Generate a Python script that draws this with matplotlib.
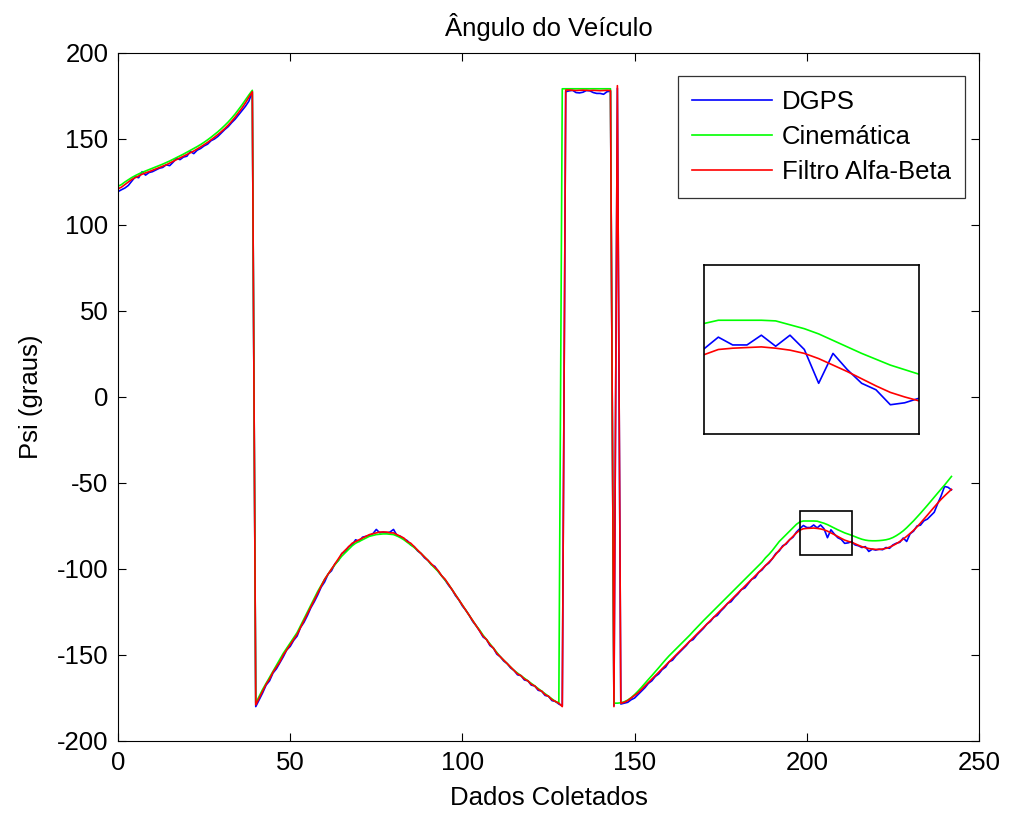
import matplotlib
matplotlib.use("Agg")
import matplotlib.pyplot as plt
from matplotlib.patches import Rectangle

plt.rcParams['font.family'] = ['Liberation Sans', 'DejaVu Sans']
plt.rcParams['axes.unicode_minus'] = False

x_start = 0
labels = ["DGPS", "Cinemática", "Filtro Alfa-Beta"]
colors = ["#0000ff", "#00ff00", "#ff0000"]
title = "Ângulo do Veículo"
xlabel = "Dados Coletados"
ylabel = "Psi (graus)"
xticks = [0, 50, 100, 150, 200, 250]
yticks = [-200, -150, -100, -50, 0, 50, 100, 150, 200]
zoom_x = [198, 213]
zoom_y = [-92, -66]
inset_ylim = [-89.6, -63.6]

dgps = [
    119.4, 120.5, 121.5, 123.0, 125.5, 128.0, 127.5, 131.0, 129.0, 130.5,   # 0-9
    131.0, 132.0, 133.0, 133.5, 135.0, 134.5, 136.5, 138.8, 138.0, 139.5,   # 10-19
    140.0, 142.7, 141.5, 143.5, 144.5, 146.0, 147.0, 149.0, 150.0, 151.5,   # 20-29
    153.5, 155.5, 157.2, 159.5, 161.5, 164.0, 166.5, 169.0, 172.0, 177.5,   # 30-39
    -180.0, -176.0, -172.0, -167.5, -165.0, -160.5, -158.0, -154.5, -151.0, -147.0,  # 40-49
    -145.0, -141.5, -139.0, -134.0, -131.0, -127.0, -122.5, -119.0, -115.0, -110.5,  # 50-59
    -107.5, -103.0, -101.0, -97.0, -95.0, -91.0, -90.0, -87.0, -86.0, -83.0,   # 60-69
    -84.0, -81.5, -81.0, -80.5, -79.5, -77.0, -79.0, -78.5, -79.0, -78.5,      # 70-79
    -77.0, -80.5, -81.0, -82.5, -83.5, -86.0, -87.0, -89.5, -91.0, -93.5,      # 80-89
    -95.0, -97.5, -98.5, -101.5, -104.0, -106.5, -109.5, -112.0, -115.5, -118.0,  # 90-99
    -121.5, -124.0, -127.0, -130.5, -133.0, -136.0, -139.5, -141.0, -144.5, -146.0,  # 100-109
    -149.5, -151.0, -153.5, -155.0, -157.5, -159.0, -161.5, -162.0, -164.5, -165.0,  # 110-119
    -167.5, -168.0, -170.5, -171.0, -173.5, -174.0, -176.5, -177.0, -178.5, -179.5,  # 120-129
    177.5, 178.0, 178.3, 177.0, 176.8, 177.2, 178.2, 178.0, 177.0, 176.5,      # 130-139
    176.5, 176.0, 177.5, 177.8, -179.5, 179.5, -178.5, -178.0, -177.5, -176.0,  # 140-149
    -175.0, -173.0, -171.0, -169.0, -166.5, -165.0, -162.5, -161.0, -158.5, -157.0,  # 150-159
    -154.0, -153.0, -150.5, -148.5, -146.5, -144.5, -142.0, -141.0, -138.5, -136.5,  # 160-169
    -134.5, -132.0, -130.5, -128.0, -127.0, -124.5, -122.5, -120.0, -119.0, -116.5,  # 170-179
    -114.5, -112.0, -111.0, -108.5, -106.0, -105.0, -102.0, -100.5, -98.0, -96.5,    # 180-189
    -94.0, -91.0, -89.5, -86.5, -85.5, -83.0, -81.5, -78.5, -76.5, -74.7,      # 190-199
    -75.9, -75.9, -74.4, -76.1, -74.4, -76.6, -81.8, -77.2, -79.7, -81.8,      # 200-209
    -82.8, -85.1, -84.8, -84.1, -86.0, -86.5, -87.5, -87.0, -89.8, -88.5,      # 210-219
    -89.0, -88.5, -88.8, -87.5, -88.0, -86.0, -85.0, -84.5, -82.0, -84.0,      # 220-229
    -79.5, -78.0, -75.0, -74.5, -72.0, -71.0, -69.0, -67.0, -62.0, -57.5,      # 230-239
    -52.0, -52.5, -54.0,                                                       # 240-242
]

cinematica = [
    122.5, 123.5, 125.0, 126.3, 127.6, 128.7, 129.7, 130.6, 131.4, 132.2,     # 0-9
    133.0, 133.8, 134.6, 135.4, 136.3, 137.2, 138.2, 139.2, 140.2, 141.2,     # 10-19
    142.3, 143.4, 144.5, 145.6, 146.8, 148.1, 149.5, 151.0, 152.6, 154.2,     # 20-29
    156.0, 157.9, 159.9, 162.1, 164.5, 167.1, 169.8, 172.7, 175.6, 178.3,     # 30-39
    -178.0, -174.0, -170.0, -166.5, -163.0, -159.5, -156.0, -152.5, -149.0, -146.0,  # 40-49
    -143.0, -140.0, -137.0, -133.0, -129.0, -125.0, -121.0, -117.0, -113.0, -109.5,  # 50-59
    -106.0, -103.0, -100.0, -97.5, -95.0, -92.5, -90.5, -88.5, -86.5, -85.0,  # 60-69
    -84.0, -83.0, -82.0, -81.0, -80.5, -80.0, -79.8, -79.6, -79.6, -79.8,     # 70-79
    -80.0, -80.8, -81.8, -83.0, -84.5, -86.0, -87.5, -89.2, -91.0, -93.0,     # 80-89
    -95.0, -97.5, -99.5, -101.5, -104.0, -106.5, -109.0, -112.0, -115.0, -118.0,  # 90-99
    -121.0, -124.0, -127.0, -130.0, -133.0, -135.5, -138.5, -141.0, -143.5, -146.0,  # 100-109
    -148.5, -151.0, -153.0, -155.0, -157.0, -159.0, -160.5, -162.0, -163.5, -165.0,  # 110-119
    -166.5, -168.0, -169.5, -171.0, -172.5, -174.0, -175.5, -177.0, -178.0, 179.2,  # 120-129
    179.2, 179.2, 179.2, 179.2, 179.2, 179.2, 179.2, 179.2, 179.2, 179.2,     # 130-139
    179.2, 179.2, 179.2, 179.2, -178.0, -178.0, -177.8, -177.2, -176.2, -174.8,  # 140-149
    -173.0, -171.0, -168.8, -166.5, -164.2, -162.0, -159.7, -157.4, -155.0, -152.7,  # 150-159
    -150.5, -148.5, -146.5, -144.5, -142.5, -140.5, -138.5, -136.3, -134.2, -132.1,  # 160-169
    -130.0, -128.0, -126.0, -124.0, -122.0, -120.0, -118.0, -116.0, -114.0, -112.0,  # 170-179
    -110.0, -108.0, -106.0, -104.0, -102.0, -100.0, -98.0, -96.0, -93.5, -91.5,   # 180-189
    -89.2, -86.6, -84.0, -82.0, -80.0, -78.0, -76.0, -74.0, -72.6, -72.1,     # 190-199
    -72.1, -72.1, -72.1, -72.2, -72.8, -73.4, -74.2, -75.2, -76.2, -77.2,     # 200-209
    -78.1, -79.0, -79.7, -80.4, -81.2, -82.0, -82.7, -83.2, -83.5, -83.6,     # 210-219
    -83.6, -83.5, -83.3, -83.0, -82.5, -81.7, -80.6, -79.3, -77.8, -76.0,     # 220-229
    -74.0, -72.0, -69.8, -67.6, -65.3, -63.0, -60.6, -58.2, -55.8, -53.5,     # 230-239
    -51.2, -48.7, -46.2,                                                      # 240-242
]

filtro = [
    121.0, 122.0, 123.5, 125.0, 126.5, 127.5, 128.5, 129.5, 130.3, 131.0,     # 0-9
    131.8, 132.6, 133.4, 134.2, 135.0, 136.0, 137.0, 138.0, 139.0, 140.0,     # 10-19
    141.0, 142.0, 143.0, 144.2, 145.4, 146.7, 148.0, 149.5, 151.0, 152.6,     # 20-29
    154.3, 156.1, 158.1, 160.3, 162.7, 165.3, 168.0, 171.0, 174.2, 177.5,     # 30-39
    -179.0, -175.0, -171.0, -167.0, -164.0, -160.0, -157.0, -154.0, -150.0, -147.0,  # 40-49
    -144.0, -141.0, -138.0, -134.0, -130.0, -126.0, -122.0, -118.0, -114.0, -110.0,  # 50-59
    -106.0, -103.0, -100.0, -97.0, -94.0, -91.0, -89.0, -87.0, -85.0, -84.0,  # 60-69
    -83.0, -82.0, -81.0, -80.0, -79.5, -79.0, -78.5, -78.5, -78.5, -79.0,     # 70-79
    -79.0, -80.0, -81.0, -82.0, -84.0, -85.0, -87.0, -89.0, -91.0, -93.0,     # 80-89
    -95.0, -97.0, -99.0, -101.0, -104.0, -106.0, -109.0, -112.0, -115.0, -118.0,  # 90-99
    -121.0, -124.0, -127.0, -130.0, -133.0, -136.0, -139.0, -141.0, -144.0, -146.0,  # 100-109
    -149.0, -151.0, -153.0, -155.0, -157.0, -159.0, -161.0, -162.0, -164.0, -165.0,  # 110-119
    -167.0, -168.0, -170.0, -171.0, -173.0, -174.0, -176.0, -177.0, -178.0, -180.0,  # 120-129
    178.5, 178.5, 178.3, 178.2, 178.3, 178.4, 178.3, 178.2, 178.3, 178.2,     # 130-139
    178.1, 178.2, 178.3, 178.2, -180.0, 181.0, -178.0, -177.5, -176.5, -175.0,  # 140-149
    -173.5, -172.0, -170.0, -168.0, -166.0, -164.0, -162.0, -160.0, -158.0, -156.0,  # 150-159
    -154.0, -152.0, -150.0, -148.0, -146.0, -144.0, -142.0, -140.0, -138.0, -136.0,  # 160-169
    -134.0, -132.0, -130.0, -128.0, -126.0, -124.0, -122.0, -120.0, -118.0, -116.0,  # 170-179
    -114.0, -112.0, -110.0, -108.0, -106.0, -104.0, -102.0, -100.0, -98.0, -96.0,   # 180-189
    -94.0, -91.5, -89.0, -87.0, -85.0, -83.0, -81.0, -79.0, -77.4, -76.6,     # 190-199
    -76.4, -76.3, -76.2, -76.4, -76.7, -77.2, -78.0, -79.0, -80.0, -81.1,     # 200-209
    -82.2, -83.2, -83.9, -84.5, -85.3, -86.2, -87.0, -87.6, -88.1, -88.4,     # 210-219
    -88.6, -88.6, -88.4, -88.0, -87.3, -86.4, -85.3, -84.0, -82.6, -81.0,     # 220-229
    -79.3, -77.5, -75.5, -73.3, -71.0, -68.7, -66.3, -64.0, -61.7, -59.5,     # 230-239
    -57.5, -55.6, -53.7,                                                      # 240-242
]

series = [dgps, cinematica, filtro]
n = len(dgps)
assert all(len(s) == n for s in series), [len(s) for s in series]
xs = list(range(x_start, x_start + n))

FS = 18.5
W, H = 1013, 814
fig = plt.figure(figsize=(W / 100, H / 100), dpi=100)
ax = fig.add_axes([118 / W, 1 - 741 / H, (979 - 118) / W, (741 - 53) / H])

for s, c, lab in zip(series, colors, labels):
    ax.plot(xs, s, color=c, lw=1.2, label=lab)

ax.set_xlim(0, 250)
ax.set_ylim(-200, 200)
ax.set_xticks(xticks)
ax.set_yticks(yticks)
ax.tick_params(direction='in', top=True, right=True, length=6, width=0.8,
               labelsize=FS, pad=7)
for sp in ax.spines.values():
    sp.set_linewidth(0.8)
ax.set_title(title, fontsize=FS, pad=12)
ax.set_xlabel(xlabel, fontsize=FS, labelpad=8)
ax.set_ylabel(ylabel, fontsize=FS, labelpad=10)

ax.add_patch(Rectangle((zoom_x[0], zoom_y[0]), zoom_x[1] - zoom_x[0],
                       zoom_y[1] - zoom_y[0], fill=False, ec='black', lw=1.2, zorder=5))

leg = ax.legend(loc='upper right', bbox_to_anchor=((965 - 118) / 861, 1 - (76 - 53) / 688),
                fontsize=FS, frameon=True, fancybox=False, edgecolor='black',
                handlelength=3.1, handletextpad=0.4, labelspacing=0.42,
                borderpad=0.55, borderaxespad=0.0)
leg.get_frame().set_linewidth(0.9)

axi = fig.add_axes([704 / W, 1 - 434 / H, (919 - 704) / W, (434 - 265) / H])
for s, c in zip(series, colors):
    axi.plot(xs, s, color=c, lw=1.2)
axi.set_xlim(zoom_x[0], zoom_x[1])
axi.set_ylim(inset_ylim[0], inset_ylim[1])
axi.set_xticks([])
axi.set_yticks([])
for sp in axi.spines.values():
    sp.set_linewidth(1.2)

fig.savefig("out.png", dpi=100)
